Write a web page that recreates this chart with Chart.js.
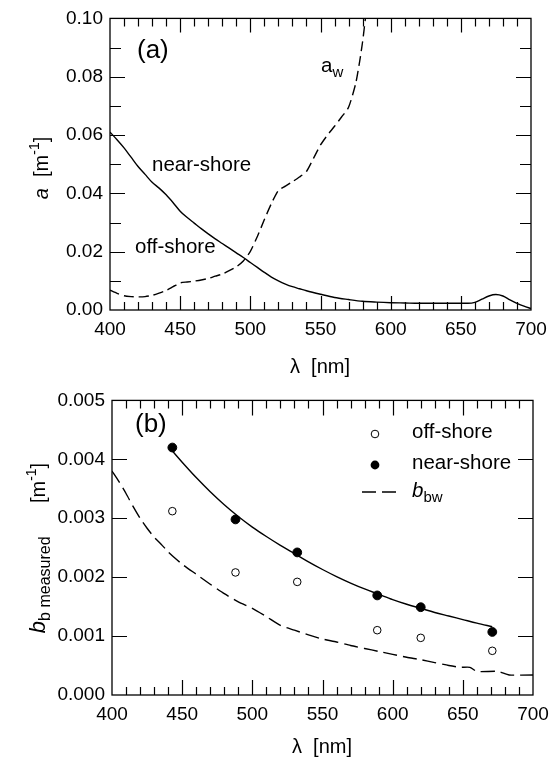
<!DOCTYPE html>
<html>
<head>
<meta charset="utf-8">
<script src="https://cdn.jsdelivr.net/npm/chart.js@4.4.1/dist/chart.umd.min.js"></script>
<style>
  body { margin: 0; background: #fff; }
  canvas { display: block; }
</style>
</head>
<body>
<canvas id="chartA" width="560" height="382"></canvas>
<canvas id="chartB" width="560" height="382"></canvas>
<script>
// panel (a): absorption spectra
const wlA = [400,405,410,415,420,425,430,435,440,445,450,455,460,465,470,475,480,485,490,495,500,505,510,515,520,525,530,535,540,550,560,570,580,590,600,610,620,630,640,650,655,660,665,670,675,680,685,690,695,700];
const aShore = [0.061,0.0584,0.0556,0.0524,0.0492,0.0465,0.0438,0.0418,0.0395,0.0368,0.0339,0.0317,0.0298,0.0279,0.0261,0.0244,0.0228,0.0212,0.0196,0.0180,0.0163,0.0146,0.0129,0.0113,0.0100,0.0089,0.0080,0.0073,0.0066,0.0054,0.0043,0.0036,0.0030,0.0027,0.0025,0.0024,0.0023,0.0023,0.0023,0.0023,0.0023,0.0026,0.0037,0.0048,0.0053,0.0048,0.0035,0.0023,0.0013,0.0005];

const wlW = [400,405,410,415,420,425,430,435,440,445,450,455,460,465,470,475,480,485,490,495,500,505,510,515,520,525,530,535,540,545,550,555,560,565,570,575,578,580,582,584];
const aWater = [0.0068,0.0057,0.0049,0.0046,0.0045,0.0046,0.0050,0.0058,0.0067,0.0080,0.0093,0.0096,0.0099,0.0103,0.0108,0.0116,0.0123,0.0135,0.0148,0.0168,0.0201,0.0252,0.0310,0.0365,0.0410,0.0425,0.0440,0.0456,0.0475,0.0520,0.0566,0.0600,0.0630,0.0662,0.0695,0.0775,0.0855,0.0920,0.1000,0.1080];

// panel (b): backscattering
const bands = [443, 488, 532, 589, 620, 671];
const bbOff = [0.00312, 0.00208, 0.00192, 0.00110, 0.00097, 0.00075];
const bbNear = [0.00420, 0.00298, 0.00242, 0.00169, 0.00149, 0.00107];

const wlFit = [443,450,460,470,480,490,500,510,520,530,540,550,560,570,580,590,600,610,620,630,640,650,660,671];
const bbFit = [0.00414,0.00395,0.00369,0.00345,0.00323,0.00303,0.00285,0.00269,0.00254,0.00240,0.00226,0.00213,0.00201,0.00190,0.00180,0.00171,0.00162,0.00154,0.00147,0.00140,0.00134,0.00128,0.00122,0.00116];

const wlBw = [400,405,410,415,420,425,430,435,440,445,450,460,470,480,490,500,510,520,530,540,550,560,570,580,590,600,610,620,630,640,648,655,660,675,683,700];
const bbWater = [0.00380,0.00362,0.00342,0.00320,0.00300,0.00283,0.00268,0.00256,0.00243,0.00232,0.00222,0.00205,0.00188,0.00172,0.00158,0.00147,0.00133,0.00118,0.00110,0.00102,0.00095,0.00090,0.00084,0.00079,0.00074,0.00069,0.00064,0.00060,0.00055,0.00050,0.00047,0.00047,0.00040,0.00040,0.00034,0.00034];

const FONT = "'Liberation Sans', Arial, Helvetica, sans-serif";
Chart.defaults.font.family = FONT;
Chart.defaults.color = '#000';

const xy = (xs, ys) => xs.map((x, i) => ({ x: x, y: ys[i] }));

// draws a run of text pieces (italic / sub / superscript) as one line
function drawRich(ctx, x, y, parts, align, rotate) {
  ctx.save();
  ctx.translate(x, y);
  if (rotate) ctx.rotate(rotate);
  ctx.textBaseline = 'alphabetic';
  ctx.textAlign = 'left';
  const fontOf = p => (p.italic ? 'italic ' : '') + (p.size || 20) + 'px ' + FONT;
  let w = 0;
  parts.forEach(p => { ctx.font = fontOf(p); w += ctx.measureText(p.t).width; });
  let cx = align === 'center' ? -w / 2 : 0;
  ctx.fillStyle = '#000';
  parts.forEach(p => {
    ctx.font = fontOf(p);
    ctx.fillText(p.t, cx, p.dy || 0);
    cx += ctx.measureText(p.t).width;
  });
  ctx.restore();
}

// frame + inward ticks on all four sides
const framePlugin = {
  id: 'frame',
  afterDatasetsDraw(chart, args, o) {
    const ctx = chart.ctx, a = chart.chartArea;
    const sx = chart.scales.x, sy = chart.scales.y;
    ctx.save();
    ctx.strokeStyle = '#000';
    ctx.lineWidth = 1.3;
    ctx.strokeRect(a.left, a.top, a.right - a.left, a.bottom - a.top);
    ctx.beginPath();
    let n = Math.round((sx.max - sx.min) / o.xMinor);
    for (let i = 1; i < n; i++) {
      const v = sx.min + i * o.xMinor;
      const major = Math.abs(v / o.xMajor - Math.round(v / o.xMajor)) < 1e-6;
      const len = major ? o.xMajorLen : o.xMinorLen;
      const px = Math.round(sx.getPixelForValue(v)) + 0.5;
      ctx.moveTo(px, a.bottom); ctx.lineTo(px, a.bottom - len);
      ctx.moveTo(px, a.top); ctx.lineTo(px, a.top + len);
    }
    n = Math.round((sy.max - sy.min) / o.yMinor);
    for (let i = 1; i < n; i++) {
      const v = sy.min + i * o.yMinor;
      const major = Math.abs(v / o.yMajor - Math.round(v / o.yMajor)) < 1e-6;
      const len = major ? o.yMajorLen : o.yMinorLen;
      const py = Math.round(sy.getPixelForValue(v)) + 0.5;
      ctx.moveTo(a.left, py); ctx.lineTo(a.left + len, py);
      ctx.moveTo(a.right, py); ctx.lineTo(a.right - len, py);
    }
    ctx.lineWidth = 1.2;
    ctx.stroke();
    ctx.restore();
  },
  afterDraw(chart, args, o) {
    const ctx = chart.ctx;
    (o.texts || []).forEach(t => drawRich(ctx, t.x, t.y, t.parts, t.align, t.rotate));
    if (o.legend) o.legend(ctx);
  }
};

function axes(yMax, yStep, digits, yWidth, xHeight) {
  return {
    x: {
      type: 'linear', min: 400, max: 700,
      grid: { display: false, drawTicks: false },
      border: { display: false },
      ticks: { stepSize: 50, padding: 8, font: { size: 19 } },
      afterFit: s => { s.height = xHeight; }
    },
    y: {
      min: 0, max: yMax,
      grid: { display: false, drawTicks: false },
      border: { display: false },
      ticks: { stepSize: yStep, padding: 7, font: { size: 19 }, callback: v => v.toFixed(digits) },
      afterFit: s => { s.width = yWidth; }
    }
  };
}

new Chart(document.getElementById('chartA'), {
  type: 'line',
  data: {
    datasets: [
      { label: 'near-shore / off-shore', data: xy(wlA, aShore), borderColor: '#000', borderWidth: 1.4,
        pointRadius: 0, cubicInterpolationMode: 'monotone', fill: false },
      { label: 'a_w', data: xy(wlW, aWater), borderColor: '#000', borderWidth: 1.4, borderDash: [10, 5],
        pointRadius: 0, tension: 0.2, fill: false }
    ]
  },
  options: {
    responsive: false, animation: false,
    layout: { padding: { left: 0, right: 29, top: 15, bottom: 0 } },
    scales: axes(0.1, 0.02, 2, 110, 72),
    plugins: {
      legend: { display: false }, tooltip: { enabled: false },
      frame: {
        xMinor: 10, xMajor: 50, xMinorLen: 8, xMajorLen: 14,
        yMinor: 0.01, yMajor: 0.02, yMinorLen: 11, yMajorLen: 15,
        texts: [
          { x: 137, y: 58, parts: [{ t: '(a)', size: 26 }] },
          { x: 152, y: 171, parts: [{ t: 'near-shore', size: 20.5 }] },
          { x: 135, y: 253, parts: [{ t: 'off-shore', size: 20.5 }] },
          { x: 321, y: 72, parts: [{ t: 'a', size: 20.5 }, { t: 'w', size: 15, dy: 5 }] },
          { x: 320, y: 373, align: 'center', parts: [{ t: 'λ  [nm]', size: 20 }] },
          { x: 48, y: 168, align: 'center', rotate: -Math.PI / 2,
            parts: [{ t: 'a', italic: true, size: 20 }, { t: '  [m', size: 20 }, { t: '-1', size: 14, dy: -9 }, { t: ']', size: 20 }] }
        ]
      }
    }
  },
  plugins: [framePlugin]
});

new Chart(document.getElementById('chartB'), {
  type: 'line',
  data: {
    datasets: [
      { label: 'off-shore', data: xy(bands, bbOff), showLine: false, pointRadius: 3.8,
        pointBackgroundColor: '#fff', pointBorderColor: '#000', pointBorderWidth: 1 },
      { label: 'near-shore', data: xy(bands, bbNear), showLine: false, pointRadius: 4.4,
        pointBackgroundColor: '#000', pointBorderColor: '#000', pointBorderWidth: 1 },
      { label: 'fit', data: xy(wlFit, bbFit), borderColor: '#000', borderWidth: 1.4,
        pointRadius: 0, cubicInterpolationMode: 'monotone', fill: false },
      { label: 'b_bw', data: xy(wlBw, bbWater), borderColor: '#000', borderWidth: 1.4, borderDash: [14, 6],
        pointRadius: 0, tension: 0.2, fill: false }
    ]
  },
  options: {
    responsive: false, animation: false,
    layout: { padding: { left: 0, right: 27, top: 18, bottom: 0 } },
    scales: axes(0.005, 0.001, 3, 112, 69),
    plugins: {
      legend: { display: false }, tooltip: { enabled: false },
      frame: {
        xMinor: 10, xMajor: 50, xMinorLen: 8, xMajorLen: 15,
        yMinor: 0.001, yMajor: 0.001, yMinorLen: 15, yMajorLen: 15,
        texts: [
          { x: 135, y: 50, parts: [{ t: '(b)', size: 26 }] },
          { x: 412, y: 56, parts: [{ t: 'off-shore', size: 20.5 }] },
          { x: 412, y: 87, parts: [{ t: 'near-shore', size: 20.5 }] },
          { x: 412, y: 115, parts: [{ t: 'b', italic: true, size: 20.5 }, { t: 'bw', size: 15, dy: 5 }] },
          { x: 322, y: 371, align: 'center', parts: [{ t: 'λ  [nm]', size: 20 }] },
          { x: 45, y: 166, align: 'center', rotate: -Math.PI / 2,
            parts: [{ t: 'b', italic: true, size: 22 }, { t: 'b measured', size: 16, dy: 5 }, { t: '      [m', size: 20 },
                    { t: '-1', size: 14, dy: -9 }, { t: ']', size: 20 }] }
        ],
        legend: ctx => {
          ctx.save();
          ctx.strokeStyle = '#000';
          ctx.lineWidth = 1;
          ctx.beginPath(); ctx.arc(375, 52, 3.8, 0, Math.PI * 2); ctx.stroke();
          ctx.fillStyle = '#000';
          ctx.beginPath(); ctx.arc(375, 83, 4.4, 0, Math.PI * 2); ctx.fill();
          ctx.lineWidth = 1.4;
          ctx.setLineDash([14, 6]);
          ctx.beginPath(); ctx.moveTo(362, 110); ctx.lineTo(396, 110); ctx.stroke();
          ctx.restore();
        }
      }
    }
  },
  plugins: [framePlugin]
});
</script>
</body>
</html>
